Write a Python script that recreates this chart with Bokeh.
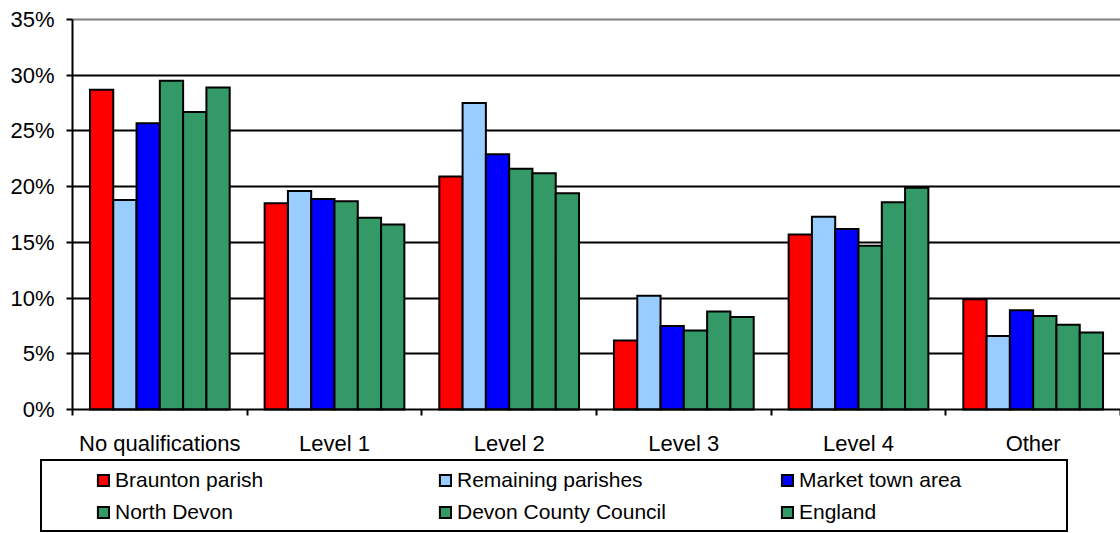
import numpy as np
from bokeh.plotting import figure
from bokeh.models import (Range1d, FixedTicker, PrintfTickFormatter, LinearAxis,
                          Grid, Legend, LegendItem, ColumnDataSource)
from bokeh.embed import file_html
from bokeh.resources import INLINE

categories = ["No qualifications", "Level 1", "Level 2", "Level 3", "Level 4", "Other"]
series_names = ["Braunton parish", "Remaining parishes", "Market town area",
                "North Devon", "Devon County Council", "England"]
braunton = [28.7, 18.5, 20.9, 6.2, 15.7, 9.9]
remaining = [18.8, 19.6, 27.5, 10.2, 17.3, 6.6]
market_town = [25.7, 18.9, 22.9, 7.5, 16.2, 8.9]
north_devon = [29.5, 18.7, 21.6, 7.1, 14.7, 8.4]
devon_cc = [26.7, 17.2, 21.2, 8.8, 18.6, 7.6]
england = [28.9, 16.6, 19.4, 8.3, 19.9, 6.9]
series_values = [braunton, remaining, market_town, north_devon, devon_cc, england]
colors = ["#FF0000", "#99CCFF", "#0000FF", "#339966", "#339966", "#339966"]
y_ticks = [0, 5, 10, 15, 20, 25, 30, 35]

FONT = "Liberation Sans"
n_cat = len(categories)
n_ser = len(series_names)
group_w = 0.8
bar_w = group_w / n_ser

# layout (pixels): canvas = frame; axes placed at data 0 inside it
W, H = 1120, 533
AX_LEFT, AX_TOP, AX_BOTTOM = 72, 19, 409
y_max = y_ticks[-1]
px_x = (W - AX_LEFT) / n_cat
px_y = (AX_BOTTOM - AX_TOP) / y_max
x_range = Range1d(-AX_LEFT / px_x, n_cat)
y_range = Range1d(-(H - AX_BOTTOM) / px_y, y_max + AX_TOP / px_y)

p = figure(width=W, height=H, title=None, toolbar_location=None,
           output_backend="svg", x_range=x_range, y_range=y_range,
           min_border=0, x_axis_type=None, y_axis_type=None)
p.outline_line_color = None
p.background_fill_color = "white"
p.border_fill_color = "white"

# y axis
yaxis = LinearAxis(ticker=FixedTicker(ticks=y_ticks, minor_ticks=[]),
                   formatter=PrintfTickFormatter(format="%d%%"),
                   fixed_location=0, bounds=(0, y_max))
yaxis.axis_line_color = "black"
yaxis.axis_line_width = 2
yaxis.major_tick_line_color = "black"
yaxis.major_tick_line_width = 2
yaxis.major_tick_out = 6
yaxis.major_tick_in = 0
yaxis.minor_tick_line_color = None
yaxis.major_label_standoff = 12
yaxis.major_label_text_font = FONT
yaxis.major_label_text_font_size = "22px"
yaxis.major_label_text_color = "black"
p.add_layout(yaxis, "left")

# x axis: labels at category centres, ticks at category boundaries
centers = [i + 0.5 for i in range(n_cat)]
bounds = [float(i) for i in range(n_cat + 1)]
xaxis = LinearAxis(ticker=FixedTicker(ticks=centers, minor_ticks=bounds),
                   fixed_location=0, bounds=(0, n_cat))
xaxis.major_label_overrides = {c: name for c, name in zip(centers, categories)}
xaxis.axis_line_color = "black"
xaxis.axis_line_width = 2
xaxis.major_tick_line_color = None
xaxis.major_tick_out = 0
xaxis.major_tick_in = 0
xaxis.minor_tick_line_color = "black"
xaxis.minor_tick_line_width = 2
xaxis.minor_tick_out = 6
xaxis.minor_tick_in = 0
xaxis.major_label_standoff = 15
xaxis.major_label_text_font = FONT
xaxis.major_label_text_font_size = "22px"
xaxis.major_label_text_color = "black"
p.add_layout(xaxis, "below")

# horizontal grid lines, limited to the plot area
grid_specs = [(y_ticks[1:-1], "black"), (y_ticks[-1:], "#808080")]
try:
    for ticks, col in grid_specs:
        g = Grid(dimension=1, ticker=FixedTicker(ticks=ticks))
        g.cross_bounds = (0, n_cat)
        g.grid_line_color = col
        g.grid_line_width = 2
        p.add_layout(g)
except AttributeError:
    p.renderers = [r for r in p.renderers if not isinstance(r, Grid)]
    p.center = [r for r in p.center if not isinstance(r, Grid)]
    for ticks, col in grid_specs:
        p.segment(x0=[0] * len(ticks), x1=[n_cat] * len(ticks), y0=ticks, y1=ticks,
                  line_color=col, line_width=2, level="underlay")

# bars
base = np.arange(n_cat) + 0.5
bar_renderers = []
for k, (vals, col) in enumerate(zip(series_values, colors)):
    xs = base + (k - (n_ser - 1) / 2) * bar_w
    src = ColumnDataSource(dict(x=xs, top=vals))
    r = p.vbar(x="x", top="top", bottom=0, width=bar_w, source=src,
               fill_color=col, line_color="black", line_width=2, line_join="miter")
    bar_renderers.append(r)

# legend frame (a legend whose only entry draws nothing)
empty = p.vbar(x=[], top=[], bottom=0, width=0.1, fill_alpha=0, line_alpha=0)
box = Legend(items=[LegendItem(label=" ", renderers=[empty])], location=(40, 1))
box.border_line_color = "black"
box.border_line_alpha = 1
box.border_line_width = 2
box.background_fill_color = "white"
box.background_fill_alpha = 1
box.padding = 0
box.margin = 0
box.spacing = 0
box.glyph_width = 1014
box.glyph_height = 69
box.label_standoff = 0
box.label_width = 10
box.label_height = 69
box.label_text_font = FONT
box.label_text_font_size = "21px"
p.add_layout(box, "center")

# legend entries
items = [LegendItem(label=name, renderers=[r]) for name, r in zip(series_names, bar_renderers)]
legend = Legend(items=items, location=(96, 9), orientation="horizontal", ncols=3)
legend.border_line_color = None
legend.background_fill_color = None
legend.padding = 0
legend.margin = 0
legend.spacing = 8
legend.glyph_width = 14
legend.glyph_height = 14
legend.label_standoff = 5
legend.label_width = 315
legend.label_height = 22
legend.label_text_font = FONT
legend.label_text_font_size = "21px"
legend.label_text_color = "black"
p.add_layout(legend, "center")

open("out.html", "w").write(file_html(p, INLINE))
